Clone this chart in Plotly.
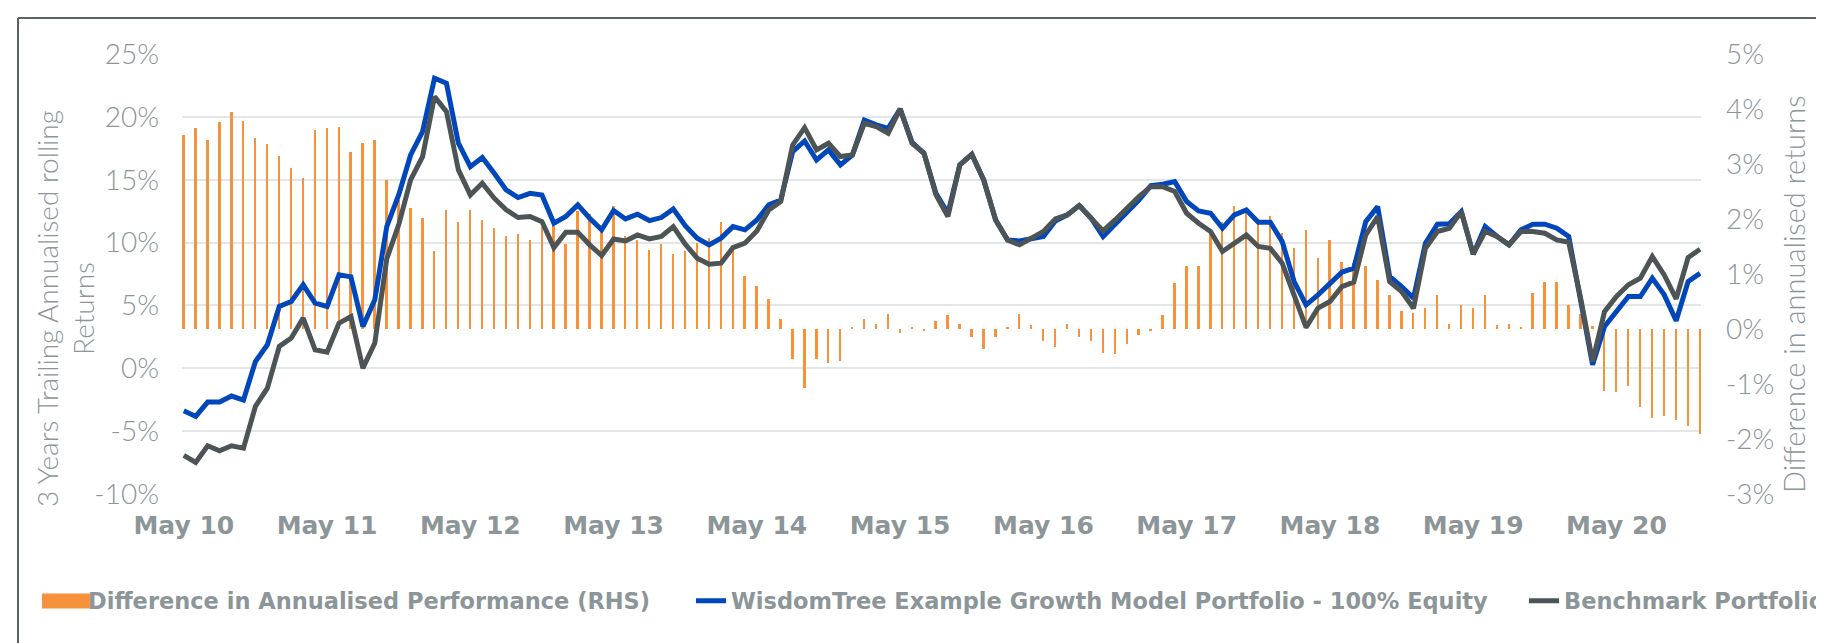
import pandas as pd
import plotly.graph_objects as go

# ---------------- data ----------------
months = pd.date_range("2010-05-01", periods=128, freq="MS").strftime("%b %y").tolist()
x_tick_labels = ["May 10", "May 11", "May 12", "May 13", "May 14", "May 15",
                 "May 16", "May 17", "May 18", "May 19", "May 20"]

left_tick_vals = [-10, -5, 0, 5, 10, 15, 20, 25]
left_tick_text = ["-10%", "-5%", "0%", "5%", "10%", "15%", "20%", "25%"]
right_tick_vals = [-3, -2, -1, 0, 1, 2, 3, 4, 5]
right_tick_text = ["-3%", "-2%", "-1%", "0%", "1%", "2%", "3%", "4%", "5%"]

# Difference in annualised performance (RHS, %)
difference = [
    3.53, 3.65, 3.43, 3.76, 3.94, 3.79, 3.47, 3.36, 3.14, 2.92, 2.74, 3.61,
    3.65, 3.68, 3.21, 3.39, 3.43, 2.71, 2.34, 2.20, 2.02, 1.41, 2.16, 1.95,
    2.16, 1.98, 1.84, 1.69, 1.73, 1.62, 1.85, 1.87, 1.55, 2.14, 2.09, 1.81,
    2.23, 1.69, 1.62, 1.44, 1.55, 1.36, 1.41, 1.57, 1.66, 1.95, 1.52, 0.97,
    0.79, 0.54, 0.18, -0.54, -1.08, -0.54, -0.62, -0.58, 0.03, 0.18, 0.10, 0.28,
    -0.07, 0.03, -0.04, 0.14, 0.25, 0.10, -0.14, -0.36, -0.14, 0.03, 0.28, 0.07,
    -0.21, -0.32, 0.10, -0.14, -0.21, -0.43, -0.46, -0.28, -0.10, -0.03, 0.25, 0.83,
    1.15, 1.15, 1.75, 1.95, 2.23, 2.14, 2.00, 2.05, 1.75, 1.48, 1.80, 1.30,
    1.62, 1.22, 1.20, 1.15, 0.90, 0.61, 0.32, 0.30, 0.39, 0.61, 0.10, 0.43,
    0.39, 0.61, 0.07, 0.10, 0.03, 0.65, 0.86, 0.86, 0.43, 0.27, 0.05, -1.12,
    -1.15, -1.04, -1.41, -1.62, -1.59, -1.66, -1.77, -1.91,
]

# WisdomTree Example Growth Model Portfolio - 100% Equity (LHS, %)
wisdomtree = [
    -3.38, -3.83, -2.69, -2.69, -2.21, -2.53, 0.54, 1.87, 4.92, 5.31, 6.64, 5.18,
    4.92, 7.43, 7.27, 3.33, 5.45, 11.27, 13.79, 16.97, 18.83, 23.07, 22.67, 17.90,
    16.04, 16.76, 15.51, 14.19, 13.58, 13.92, 13.79, 11.54, 12.07, 13.00, 11.94, 11.01,
    12.55, 11.88, 12.25, 11.75, 11.99, 12.68, 11.35, 10.35, 9.82, 10.35, 11.27, 11.01,
    11.80, 13.00, 13.39, 17.24, 18.08, 16.57, 17.37, 16.18, 16.97, 19.75, 19.36, 19.09,
    20.63, 17.98, 17.10, 13.92, 12.33, 16.18, 17.02, 14.98, 11.80, 10.21, 10.13, 10.30,
    10.48, 11.72, 12.20, 12.94, 11.94, 10.48, 11.41, 12.33, 13.39, 14.53, 14.64, 14.85,
    13.26, 12.52, 12.33, 11.14, 12.20, 12.60, 11.62, 11.62, 10.08, 6.90, 5.05, 5.84,
    6.77, 7.64, 7.96, 11.67, 12.86, 7.30, 6.50, 5.58, 9.95, 11.46, 11.50, 12.47,
    9.08, 11.27, 10.48, 9.82, 11.01, 11.46, 11.46, 11.14, 10.48, 5.40, 0.28, 3.33,
    4.52, 5.71, 5.71, 7.17, 5.84, 3.78, 6.90, 7.56,
]

# Benchmark Portfolio (LHS, %)
benchmark = [
    -6.93, -7.49, -6.16, -6.56, -6.16, -6.35, -3.03, -1.58, 1.74, 2.40, 3.99, 1.47,
    1.28, 3.59, 4.12, 0.01, 2.00, 8.70, 11.41, 14.98, 16.84, 21.61, 20.42, 15.78,
    13.79, 14.72, 13.53, 12.60, 11.99, 12.07, 11.67, 9.60, 10.82, 10.82, 9.82, 8.97,
    10.29, 10.13, 10.61, 10.29, 10.48, 11.27, 9.87, 8.76, 8.28, 8.36, 9.60, 9.95,
    10.93, 12.60, 13.26, 17.77, 19.14, 17.37, 17.90, 16.84, 16.97, 19.49, 19.22, 18.69,
    20.63, 17.90, 17.10, 13.80, 12.07, 16.18, 17.02, 14.98, 11.80, 10.21, 9.82, 10.30,
    10.88, 11.88, 12.20, 12.94, 11.94, 10.93, 11.80, 12.73, 13.66, 14.45, 14.45, 14.06,
    12.33, 11.54, 10.88, 9.29, 9.95, 10.61, 9.69, 9.55, 8.36, 5.84, 3.25, 4.78,
    5.31, 6.50, 6.85, 10.61, 12.07, 6.90, 6.11, 4.78, 9.55, 10.88, 11.14, 12.47,
    9.08, 10.88, 10.48, 9.82, 10.88, 10.88, 10.74, 10.21, 10.03, 5.58, 0.54, 4.50,
    5.71, 6.64, 7.17, 8.89, 7.43, 5.53, 8.81, 9.47,
]

series_names = [
    "Difference in Annualised Performance (RHS)",
    "WisdomTree Example Growth Model Portfolio - 100% Equity",
    "Benchmark Portfolio",
]

# ---------------- style ----------------
ORANGE = "#F5923A"
BLUE = "#0047BB"
DARK = "#4D5456"
TEXT = "#8C9598"
GRID = "#E3E6E7"

W, H = 1824, 643
ML, MR, MT, MB = 174, 131, 46, 157
PW, PH = W - ML - MR, H - MT - MB


def px_x(p):
    return (p - ML) / PW


def px_y(p):
    return (H - MB - p) / PH


fig = go.Figure()

fig.add_trace(go.Bar(
    x=months, y=difference, name=series_names[0], yaxis="y",
    marker=dict(color=ORANGE, line=dict(width=0)), width=0.16,
    showlegend=False,
))
# legend entry for the bar series
fig.add_trace(go.Scatter(
    x=[None], y=[None], mode="lines", name=series_names[0], yaxis="y",
    line=dict(color=ORANGE, width=15), legend="legend",
))
fig.add_trace(go.Scatter(
    x=months, y=wisdomtree, name=series_names[1], yaxis="y2", mode="lines",
    line=dict(color=BLUE, width=5), legend="legend2",
))
fig.add_trace(go.Scatter(
    x=months, y=benchmark, name=series_names[2], yaxis="y2", mode="lines",
    line=dict(color=DARK, width=5), legend="legend3",
))

tick_font = dict(family="Lato", size=28, color=TEXT, weight=300)
legend_font = dict(family="DejaVu Sans", size=22.5, color=TEXT, weight="bold")
LEG_Y = 593


def leg(xpx):
    return dict(orientation="h", x=px_x(xpx), xanchor="left", y=px_y(LEG_Y), yanchor="middle",
                font=legend_font, bgcolor="rgba(0,0,0,0)", borderwidth=0)


fig.update_layout(
    width=W, height=H,
    margin=dict(l=ML, r=MR, t=MT, b=MB, autoexpand=False),
    paper_bgcolor="white", plot_bgcolor="white",
    bargap=0,
    xaxis=dict(
        type="category", range=[-0.15, 127.08],
        tickvals=x_tick_labels, ticktext=x_tick_labels,
        showgrid=False, zeroline=False, showline=False, ticks="",
        tickfont=dict(family="DejaVu Sans", size=25, color=TEXT, weight="bold"),
        ticklabelstandoff=14, automargin=False,
    ),
    yaxis=dict(
        side="right", range=[-3, 5], tickvals=right_tick_vals, ticktext=right_tick_text,
        showgrid=False, zeroline=False, showline=False, ticks="",
        tickfont=tick_font, ticklabelstandoff=24, automargin=False,
    ),
    yaxis2=dict(
        side="left", overlaying="y", range=[-10, 25],
        tickvals=left_tick_vals, ticktext=left_tick_text,
        showgrid=True, gridcolor=GRID, gridwidth=2, zeroline=False, showline=False,
        ticks="", tickfont=tick_font, ticklabelstandoff=22, automargin=False,
    ),
    legend=leg(40),
    legend2=leg(683),
    legend3=leg(1516),
    annotations=[
        dict(text="3 Years Trailing Annualised rolling<br>Returns", xref="paper", yref="paper",
             x=px_x(57), y=px_y(301), xanchor="center", yanchor="middle", textangle=-90,
             showarrow=False, font=dict(family="Lato", size=28, color=TEXT, weight=300)),
        dict(text="Difference in annualised returns", xref="paper", yref="paper",
             x=px_x(1785), y=px_y(286), xanchor="center", yanchor="middle", textangle=-90,
             showarrow=False, font=dict(family="Lato", size=29, color=TEXT, weight=300)),
    ],
    shapes=[
        # chart frame
        dict(type="line", xref="paper", yref="paper", x0=px_x(10), x1=px_x(1840),
             y0=px_y(10), y1=px_y(10), line=dict(color="#5B6365", width=2)),
        dict(type="line", xref="paper", yref="paper", x0=px_x(10), x1=px_x(10),
             y0=px_y(10), y1=px_y(660), line=dict(color="#5B6365", width=2)),
        # wide swatch behind the bar-series legend entry
        dict(type="rect", xref="paper", yref="paper", x0=px_x(34), x1=px_x(84),
             y0=px_y(LEG_Y + 7.5), y1=px_y(LEG_Y - 7.5), fillcolor=ORANGE, line=dict(width=0)),
    ],
)

fig.write_html("out.html")
